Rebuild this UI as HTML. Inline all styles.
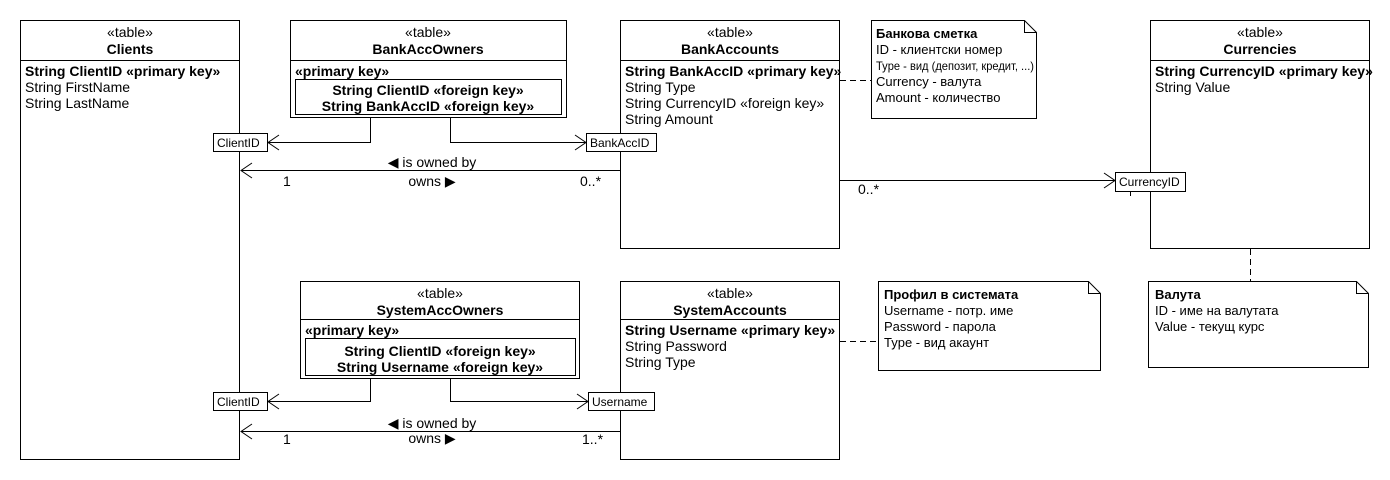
<!DOCTYPE html>
<html><head><meta charset="utf-8"><style>
body{margin:0;background:#fff}
svg{display:block}
text{font-family:"Liberation Sans","DejaVu Sans",sans-serif;font-size:14px;fill:#000}
.b{font-weight:bold}
.c{text-anchor:middle}
.n{font-size:13px}
.p{font-size:12px}
</style></head><body>
<svg width="1390" height="480" viewBox="0 0 1390 480" xmlns="http://www.w3.org/2000/svg">
<g fill="none" stroke="#000" stroke-width="1">
<rect x="20.5" y="20.5" width="219" height="439" fill="#fff"/>
<line x1="20" y1="60.5" x2="240" y2="60.5"/>
<rect x="290.5" y="20.5" width="276" height="97" fill="#fff"/>
<line x1="290" y1="60.5" x2="566" y2="60.5"/>
<rect x="295.5" y="79.5" width="266" height="35"/>
<rect x="620.5" y="20.5" width="219" height="228" fill="#fff"/>
<line x1="620" y1="60.5" x2="840" y2="60.5"/>
<rect x="1150.5" y="20.5" width="219" height="228" fill="#fff"/>
<line x1="1150" y1="60.5" x2="1370" y2="60.5"/>
<rect x="300.5" y="281.5" width="279" height="97" fill="#fff"/>
<line x1="300" y1="319.5" x2="580" y2="319.5"/>
<rect x="305.5" y="338.5" width="270" height="37"/>
<rect x="620.5" y="281.5" width="219" height="178" fill="#fff"/>
<line x1="620" y1="319.5" x2="840" y2="319.5"/>
<path d="M871.5 20.5 H1024.5 L1036.5 32.5 V118.5 H871.5 Z M1024.5 20.5 V32.5 H1036.5" fill="#fff"/>
<path d="M878.5 281.5 H1088.5 L1100.5 293.5 V370.5 H878.5 Z M1088.5 281.5 V293.5 H1100.5" fill="#fff"/>
<path d="M1148.5 281.5 H1356.5 L1368.5 293.5 V367.5 H1148.5 Z M1356.5 281.5 V293.5 H1368.5" fill="#fff"/>
<line x1="840" y1="80.5" x2="871" y2="80.5" stroke-dasharray="6,4"/>
<line x1="840" y1="341.5" x2="878" y2="341.5" stroke-dasharray="6,4"/>
<line x1="1250.5" y1="249" x2="1250.5" y2="281" stroke-dasharray="6,4"/>
<polyline points="370.5,117 370.5,142.5 268,142.5"/>
<polyline points="279,135 268,142.5 279,150"/>
<polyline points="450.5,117 450.5,142.5 586,142.5"/>
<polyline points="575,135 586,142.5 575,150"/>
<line x1="620" y1="170.5" x2="241" y2="170.5"/>
<polyline points="252,163 241,170.5 252,178"/>
<line x1="840" y1="180.5" x2="1115" y2="180.5"/>
<polyline points="1104,173 1115,180.5 1104,188"/>
<line x1="1130.5" y1="184" x2="1130.5" y2="196"/>
<polyline points="370.5,378 370.5,401.5 268,401.5"/>
<polyline points="279,394 268,401.5 279,409"/>
<polyline points="450.5,378 450.5,401.5 588,401.5"/>
<polyline points="577,394 588,401.5 577,409"/>
<line x1="620" y1="431.5" x2="241" y2="431.5"/>
<polyline points="252,424 241,431.5 252,439"/>
<rect x="213.5" y="133.5" width="54" height="18" fill="#fff"/>
<rect x="586.5" y="133.5" width="70" height="18" fill="#fff"/>
<rect x="1115.5" y="172.5" width="70" height="19" fill="#fff"/>
<rect x="213.5" y="392.5" width="54" height="18" fill="#fff"/>
<rect x="588.5" y="392.5" width="66" height="18" fill="#fff"/>
</g>
<text class="c" x="130" y="37">«table»</text>
<text class="c b" x="130" y="54">Clients</text>
<text class="b" x="25" y="76">String ClientID «primary key»</text>
<text x="25" y="92">String FirstName</text>
<text x="25" y="108">String LastName</text>
<text class="c" x="428" y="37">«table»</text>
<text class="c b" x="428" y="54">BankAccOwners</text>
<text class="b" x="295" y="76">«primary key»</text>
<text class="c b" x="428" y="95">String ClientID «foreign key»</text>
<text class="c b" x="428" y="111">String BankAccID «foreign key»</text>
<text class="c" x="730" y="37">«table»</text>
<text class="c b" x="730" y="54">BankAccounts</text>
<text class="b" x="625" y="76">String BankAccID «primary key»</text>
<text x="625" y="92">String Type</text>
<text x="625" y="108">String CurrencyID «foreign key»</text>
<text x="625" y="124">String Amount</text>
<text class="c" x="1260" y="37">«table»</text>
<text class="c b" x="1260" y="54">Currencies</text>
<text class="b" x="1155" y="76">String CurrencyID «primary key»</text>
<text x="1155" y="92">String Value</text>
<text class="b n" x="876" y="38">Банкова сметка</text>
<text class="n" x="876" y="54">ID - клиентски номер</text>
<text class="p" x="876" y="70" textLength="158" lengthAdjust="spacingAndGlyphs">Type - вид (депозит, кредит, ...)</text>
<text class="n" x="876" y="86">Currency - валута</text>
<text class="n" x="876" y="102">Amount - количество</text>
<text class="p" x="217" y="147">ClientID</text>
<text class="p" x="590" y="147">BankAccID</text>
<text class="p" x="1119" y="186">CurrencyID</text>
<text class="p" x="217" y="406">ClientID</text>
<text class="p" x="592" y="406">Username</text>
<text class="c" x="432" y="167">◀ is owned by</text>
<text class="c" x="432" y="186">owns ▶</text>
<text x="283" y="186">1</text>
<text x="580" y="186">0..*</text>
<text x="858" y="194">0..*</text>
<text class="c" x="440" y="298">«table»</text>
<text class="c b" x="440" y="315">SystemAccOwners</text>
<text class="b" x="305" y="335">«primary key»</text>
<text class="c b" x="440" y="356">String ClientID «foreign key»</text>
<text class="c b" x="440" y="372">String Username «foreign key»</text>
<text class="c" x="730" y="298">«table»</text>
<text class="c b" x="730" y="315">SystemAccounts</text>
<text class="b" x="625" y="335">String Username «primary key»</text>
<text x="625" y="351">String Password</text>
<text x="625" y="367">String Type</text>
<text class="b n" x="884" y="299">Профил в системата</text>
<text class="n" x="884" y="315">Username - потр. име</text>
<text class="n" x="884" y="331">Password - парола</text>
<text class="n" x="884" y="347">Type - вид акаунт</text>
<text class="b n" x="1155" y="299">Валута</text>
<text class="n" x="1155" y="315">ID - име на валутата</text>
<text class="n" x="1155" y="331">Value - текущ курс</text>
<text class="c" x="432" y="428">◀ is owned by</text>
<text class="c" x="432" y="443">owns ▶</text>
<text x="283" y="444">1</text>
<text x="582" y="444">1..*</text>
</svg>
</body></html>
